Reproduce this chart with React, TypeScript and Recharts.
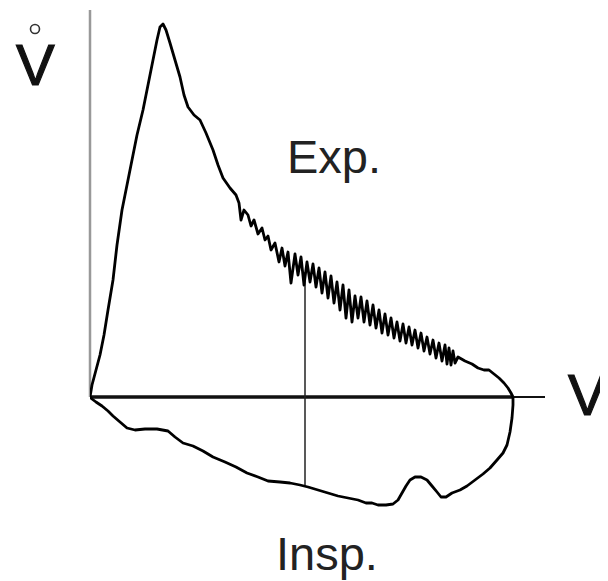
import { LineChart, Line, XAxis, YAxis, ReferenceLine } from "recharts";

const expVolume = [
  0, 0.02, 0.06, 0.1, 0.14, 0.18, 0.23, 0.27, 0.32, 0.37, 0.42, 0.47, 0.53, 0.58, 0.63, 0.67, 0.7, 0.73, 0.76,
  0.8, 0.85, 0.9, 0.94, 0.98, 1.04, 1.1, 1.16, 1.23, 1.28, 1.33, 1.4, 1.46, 1.49, 1.51, 1.54, 1.58, 1.61, 1.64,
  1.68, 1.72, 1.75, 1.78, 1.81, 1.85, 1.89, 1.92, 1.95, 1.98, 2.01, 2.05, 2.08, 2.11, 2.14, 2.17, 2.2, 2.23,
  2.26, 2.29, 2.32, 2.35, 2.38, 2.41, 2.44, 2.47, 2.5, 2.53, 2.56, 2.59, 2.62, 2.65, 2.68, 2.71, 2.74, 2.77,
  2.8, 2.83, 2.86, 2.89, 2.92, 2.95, 2.98, 3.01, 3.04, 3.07, 3.1, 3.13, 3.16, 3.19, 3.22, 3.25, 3.28, 3.31,
  3.34, 3.37, 3.4, 3.43, 3.46, 3.49, 3.52, 3.55, 3.57, 3.59, 3.61, 3.63, 3.65, 3.68, 3.75, 3.82, 3.88, 3.94,
  3.99, 4.04, 4.09, 4.14, 4.18, 4.21, 4.23,
];
const expFlow = [
  0, 0.24, 0.54, 0.84, 1.24, 1.74, 2.34, 3.04, 3.74, 4.24, 4.74, 5.24, 5.74, 6.24, 6.74, 7.14, 7.4, 7.46, 7.34,
  7.08, 6.74, 6.4, 6.04, 5.8, 5.64, 5.54, 5.28, 4.94, 4.64, 4.38, 4.18, 4.04, 3.88, 3.54, 3.74, 3.64, 3.42, 3.54,
  3.26, 3.38, 3.14, 3.22, 2.94, 3.08, 2.7, 2.98, 2.62, 2.9, 2.28, 2.86, 2.44, 2.8, 2.24, 2.7, 2.3, 2.66,
  2.2, 2.58, 2.08, 2.5, 1.98, 2.42, 1.88, 2.3, 1.74, 2.24, 1.58, 2.14, 1.5, 2.02, 1.58, 2.0, 1.5, 1.92,
  1.44, 1.84, 1.38, 1.74, 1.28, 1.66, 1.24, 1.58, 1.18, 1.5, 1.12, 1.46, 1.08, 1.4, 1.04, 1.34, 0.98, 1.28,
  0.92, 1.2, 0.86, 1.14, 0.78, 1.08, 0.72, 1.04, 0.66, 0.98, 0.64, 0.92, 0.68, 0.8, 0.72, 0.66, 0.58, 0.54,
  0.54, 0.46, 0.38, 0.28, 0.18, 0.08, 0,
];
const inspVolume = [
  4.23, 4.23, 4.22, 4.2, 4.17, 4.13, 4.07, 4.0, 3.93, 3.85, 3.77, 3.7, 3.62, 3.56, 3.51, 3.47, 3.42, 3.37,
  3.31, 3.25, 3.2, 3.16, 3.12, 3.08, 3.03, 2.96, 2.88, 2.82, 2.76, 2.68, 2.58, 2.48, 2.38, 2.28, 2.18, 2.1,
  2.0, 1.9, 1.78, 1.68, 1.57, 1.46, 1.35, 1.23, 1.13, 1.03, 0.93, 0.85, 0.78, 0.67, 0.55, 0.45, 0.37, 0.3,
  0.23, 0.18, 0.12, 0.06, 0.02, 0,
];
const inspFlow = [
  0, -0.16, -0.42, -0.7, -0.96, -1.12, -1.26, -1.42, -1.54, -1.66, -1.78, -1.86, -1.92, -2.0, -2.0, -1.9,
  -1.78, -1.66, -1.6, -1.6, -1.66, -1.78, -1.92, -2.06, -2.14, -2.16, -2.16, -2.12, -2.12, -2.06, -2.02,
  -1.98, -1.92, -1.86, -1.8, -1.76, -1.72, -1.7, -1.68, -1.6, -1.52, -1.4, -1.3, -1.2, -1.08, -0.98, -0.92,
  -0.8, -0.68, -0.64, -0.64, -0.66, -0.62, -0.5, -0.38, -0.28, -0.18, -0.1, -0.04, 0,
];

const fvc = 4.23;
const markVolume = 2.15;
const markTop = 2.5;
const markBottom = -1.76;

const expData = expVolume.map((v, i) => ({ v, f: expFlow[i] }));
const inspData = inspVolume.map((v, i) => ({ v, f: inspFlow[i] }));

const font = '"Liberation Sans", Arial, sans-serif';

export default function App() {
  return (
    <div style={{ position: "relative", width: 600, height: 573 }}>
      <LineChart width={600} height={573} margin={{ top: 2, right: 62, bottom: 4, left: 82 }}>
        <XAxis type="number" dataKey="v" domain={[0, 4.56]} allowDataOverflow hide />
        <YAxis type="number" dataKey="f" domain={[-3.6, 7.74]} allowDataOverflow hide />
        <ReferenceLine segment={[{ x: 0, y: 0 }, { x: 0, y: 7.74 }]} stroke="#999" strokeWidth={2.5} />
        <ReferenceLine segment={[{ x: 0, y: 0 }, { x: 4.55, y: 0 }]} stroke="#111" strokeWidth={2} />
        <ReferenceLine segment={[{ x: 0, y: 0 }, { x: fvc, y: 0 }]} stroke="#111" strokeWidth={3.5} />
        <ReferenceLine
          segment={[{ x: markVolume, y: markTop }, { x: markVolume, y: markBottom }]}
          stroke="#222"
          strokeWidth={1.5}
        />
        <Line data={expData} dataKey="f" type="linear" stroke="#000" strokeWidth={2.8} strokeLinejoin="round" dot={false} isAnimationActive={false} />
        <Line data={inspData} dataKey="f" type="linear" stroke="#000" strokeWidth={2.8} strokeLinejoin="round" dot={false} isAnimationActive={false} />
      </LineChart>
      <svg width={600} height={573} style={{ position: "absolute", left: 0, top: 0, pointerEvents: "none" }}>
        <circle cx={27} cy={21} r={4.5} fill="none" stroke="#333" strokeWidth={1.6} />
        <text x={8} y={77} fontFamily={font} fontSize={58} fill="#111" stroke="#111" strokeWidth={1.2}>V</text>
        <text x={560} y={407} fontFamily={font} fontSize={58} fill="#111" stroke="#111" strokeWidth={1.2}>V</text>
        <text x={279} y={165} fontFamily={font} fontSize={47} fill="#222">Exp.</text>
        <text x={268} y={562} fontFamily={font} fontSize={47} fill="#222">Insp.</text>
      </svg>
    </div>
  );
}
